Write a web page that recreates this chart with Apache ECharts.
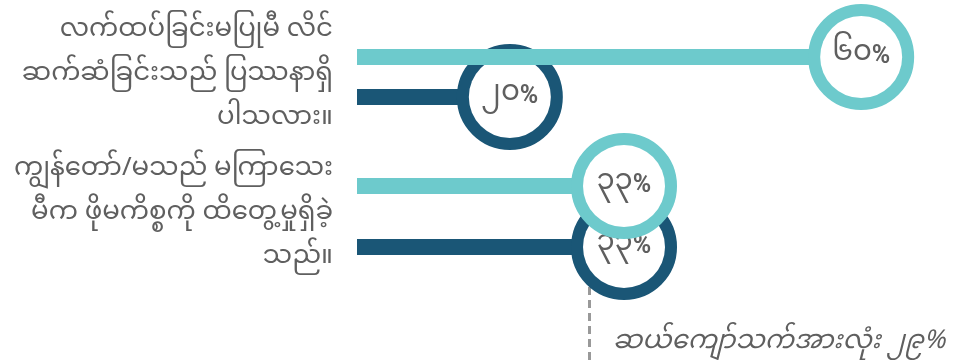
<!DOCTYPE html>
<html>
<head>
<meta charset="utf-8">
<script src="https://cdn.jsdelivr.net/npm/echarts@6/dist/echarts.min.js"></script>
<style>
  html, body { margin: 0; padding: 0; background: #fff; }
  #chart { width: 956px; height: 360px; }
</style>
</head>
<body>
<div id="chart"></div>
<script>
// chart data
var categories = [
  'လက်ထပ်ခြင်းမပြုမီ လိင်\nဆက်ဆံခြင်းသည် ပြဿနာရှိ\nပါသလား။',
  'ကျွန်တော်/မသည် မကြာသေး\nမီက ဖိုမကိစ္စကို ထိတွေ့မှုရှိခဲ့\nသည်။'
];
var tealValues = [60, 33];
var darkValues = [20, 33];
var allTeensValue = 29;
var allTeensText = 'ဆယ်ကျော်သက်အားလုံး';

var FONT = '"Noto Sans Myanmar", "Padauk", "Myanmar Text", "Noto Sans", sans-serif';
var TEAL = '#6dcacc';
var DARK = '#1a5676';
var GREY = '#5f5f5f';
var X_MIN = 2.6, X_MAX = 70;

// western digits -> myanmar digits
var mmDigits = '၀၁၂၃၄၅၆၇၈၉';
function toMM(n) {
  return String(n).replace(/[0-9]/g, function (d) { return mmDigits[+d]; });
}

// one bar + ring label ("lollipop")
function barSeries(name, value, color, z, gridIdx, gap) {
  return {
    name: name,
    type: 'bar',
    xAxisIndex: gridIdx,
    yAxisIndex: gridIdx,
    data: [value],
    barWidth: 16,
    barGap: gap,
    z: z,
    itemStyle: { color: color },
    label: {
      show: true,
      position: ['100%', '50%'],
      align: 'center',
      verticalAlign: 'middle',
      width: 82,
      height: 82,
      lineHeight: 82,
      borderRadius: 41,
      borderWidth: 12,
      borderColor: color,
      backgroundColor: '#fff',
      formatter: function (p) {
        return '{n|' + toMM(p.value) + '}{p|%}';
      },
      rich: {
        n: { fontSize: 29, color: GREY, fontFamily: FONT, lineHeight: 82 },
        p: { fontSize: 25, fontWeight: 'bold', color: GREY, fontFamily: 'Roboto', lineHeight: 82 }
      }
    }
  };
}

function catAxis(idx) {
  return {
    type: 'category',
    gridIndex: idx,
    data: [categories[idx]],
    axisLine: { show: false },
    axisTick: { show: false },
    axisLabel: { fontFamily: FONT, fontSize: 26, color: GREY, lineHeight: 44, margin: 24 }
  };
}

var chart = echarts.init(document.getElementById('chart'));

var option = {
  animation: false,
  title: {
    text: allTeensText + ' ' + toMM(allTeensValue) + '%',
    left: 608,
    top: 327,
    textStyle: { fontFamily: FONT, fontSize: 26, fontStyle: 'italic', fontWeight: 'normal', color: GREY }
  },
  grid: [
    { left: 357, right: 7, top: 5, bottom: 211 },
    { left: 357, right: 7, top: 145, bottom: 72 },
    { left: 357, right: 7, top: 162, bottom: 0 }
  ],
  xAxis: [
    { type: 'value', min: X_MIN, max: X_MAX, show: false, gridIndex: 0 },
    { type: 'value', min: X_MIN, max: X_MAX, show: false, gridIndex: 1 },
    { type: 'value', min: X_MIN, max: X_MAX, show: false, gridIndex: 2 }
  ],
  yAxis: [
    catAxis(0),
    catAxis(1),
    { type: 'value', show: false, gridIndex: 2 }
  ],
  series: [
    barSeries('teal', tealValues[0], TEAL, 3, 0, '150%'),
    barSeries('dark', darkValues[0], DARK, 2, 0, '150%'),
    barSeries('teal', tealValues[1], TEAL, 3, 1, '281%'),
    barSeries('dark', darkValues[1], DARK, 2, 1, '281%'),
    {
      type: 'line',
      xAxisIndex: 2,
      yAxisIndex: 2,
      data: [],
      z: 1,
      markLine: {
        silent: true,
        z: 1,
        symbol: 'none',
        label: { show: false },
        lineStyle: { color: '#999', width: 3, type: [8, 5] },
        data: [{ xAxis: allTeensValue }]
      }
    }
  ]
};

chart.setOption(option);
</script>
</body>
</html>
